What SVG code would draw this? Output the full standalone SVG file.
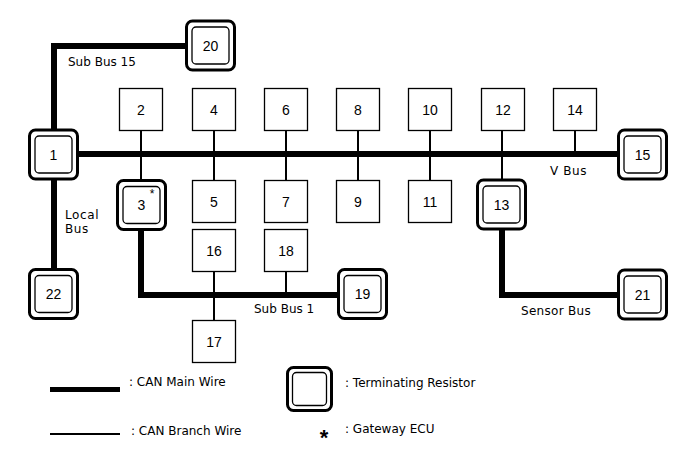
<svg xmlns="http://www.w3.org/2000/svg" width="688" height="463" viewBox="0 0 688 463">
<style>
.bg{fill:#fff}
.box{fill:#fff;stroke:#000;stroke-width:1.3}
.tro{fill:#fff;stroke:#000;stroke-width:3}
.tri{fill:none;stroke:#000;stroke-width:1.3}
.num{font-family:"Liberation Sans",Arial,sans-serif;font-size:14px;text-anchor:middle;fill:#000}
.lbl{font-family:"DejaVu Sans","Liberation Sans",sans-serif;font-size:12px;fill:#000}
.main{stroke:#000;stroke-width:6;fill:none}
.br{stroke:#000;stroke-width:2;fill:none}
</style>
<defs>
<g id="tr">
<rect class="tro" x="-24" y="-24.5" width="48" height="49" rx="6"/>
<rect class="tri" x="-18.5" y="-18.5" width="37" height="37" rx="4"/>
</g>
</defs>
<rect class="bg" width="688" height="463"/>
<g id="connectors">
<polyline class="main" points="54,129 54,46 186,46"/>
<line class="main" x1="79" y1="154" x2="618" y2="154"/>
<line class="main" x1="54" y1="180" x2="54" y2="269"/>
<polyline class="main" points="141,231 141,295 338,295"/>
<polyline class="main" points="502,230 502,295 618,295"/>
<line class="br" x1="141" y1="131" x2="141" y2="180"/>
<line class="br" x1="214" y1="131" x2="214" y2="180"/>
<line class="br" x1="286" y1="131" x2="286" y2="180"/>
<line class="br" x1="358" y1="131" x2="358" y2="180"/>
<line class="br" x1="430" y1="131" x2="430" y2="180"/>
<line class="br" x1="502" y1="131" x2="502" y2="180"/>
<line class="br" x1="575" y1="131" x2="575" y2="154"/>
<line class="br" x1="214" y1="271" x2="214" y2="320"/>
<line class="br" x1="286" y1="271" x2="286" y2="295"/>
</g>
<g id="n1"><use href="#tr" x="53.5" y="154.5"/><text class="num" x="53.5" y="159.5">1</text></g>
<g id="n20"><use href="#tr" x="210.5" y="45.5"/><text class="num" x="210.5" y="50.5">20</text></g>
<g id="n15"><use href="#tr" x="642.5" y="154.5"/><text class="num" x="642.5" y="159.5">15</text></g>
<g id="n3"><use href="#tr" x="141.5" y="205"/><text class="num" x="141.5" y="210">3</text><text class="num" x="152" y="198" style="font-size:12px">*</text></g>
<g id="n13"><use href="#tr" x="501.5" y="204.5"/><text class="num" x="501.5" y="209.5">13</text></g>
<g id="n22"><use href="#tr" x="53.5" y="294"/><text class="num" x="53.5" y="299">22</text></g>
<g id="n19"><use href="#tr" x="362.5" y="294"/><text class="num" x="362.5" y="299">19</text></g>
<g id="n21"><use href="#tr" x="642.5" y="294.5"/><text class="num" x="642.5" y="299.5">21</text></g>
<g id="n2"><rect class="box" x="119.5" y="88.5" width="43" height="42"/><text class="num" x="141" y="115">2</text></g>
<g id="n4"><rect class="box" x="192.5" y="88.5" width="43" height="42"/><text class="num" x="214" y="115">4</text></g>
<g id="n6"><rect class="box" x="264.5" y="88.5" width="43" height="42"/><text class="num" x="286" y="115">6</text></g>
<g id="n8"><rect class="box" x="336.5" y="88.5" width="43" height="42"/><text class="num" x="358" y="115">8</text></g>
<g id="n10"><rect class="box" x="408.5" y="88.5" width="43" height="42"/><text class="num" x="430" y="115">10</text></g>
<g id="n12"><rect class="box" x="481.5" y="88.5" width="43" height="42"/><text class="num" x="503" y="115">12</text></g>
<g id="n14"><rect class="box" x="553.5" y="88.5" width="43" height="42"/><text class="num" x="575" y="115">14</text></g>
<g id="n5"><rect class="box" x="192.5" y="180.5" width="43" height="42"/><text class="num" x="214" y="207">5</text></g>
<g id="n7"><rect class="box" x="264.5" y="180.5" width="43" height="42"/><text class="num" x="286" y="207">7</text></g>
<g id="n9"><rect class="box" x="336.5" y="180.5" width="43" height="42"/><text class="num" x="358" y="207">9</text></g>
<g id="n11"><rect class="box" x="408.5" y="180.5" width="43" height="42"/><text class="num" x="430" y="207">11</text></g>
<g id="n16"><rect class="box" x="192.5" y="229.5" width="43" height="42"/><text class="num" x="214" y="256">16</text></g>
<g id="n18"><rect class="box" x="264.5" y="229.5" width="43" height="42"/><text class="num" x="286" y="256">18</text></g>
<g id="n17"><rect class="box" x="192.5" y="320.5" width="43" height="42"/><text class="num" x="214" y="347">17</text></g>
<g id="labels">
<text class="lbl" x="68" y="66">Sub Bus 15</text>
<text class="lbl" x="65" y="219" letter-spacing="0.6">Local</text>
<text class="lbl" x="65" y="233" letter-spacing="0.6">Bus</text>
<text class="lbl" x="550" y="175" letter-spacing="0.6">V Bus</text>
<text class="lbl" x="254" y="313">Sub Bus 1</text>
<text class="lbl" x="521" y="315" letter-spacing="0.3">Sensor Bus</text>
</g>
<g id="legend">
<line x1="50" y1="389.5" x2="120" y2="389.5" stroke="#000" stroke-width="5"/>
<text class="lbl" x="129" y="386">: CAN Main Wire</text>
<line x1="50" y1="434" x2="120" y2="434" stroke="#000" stroke-width="2"/>
<text class="lbl" x="131" y="435">: CAN Branch Wire</text>
<rect class="tro" x="287.5" y="367.5" width="44" height="43" rx="6"/>
<rect class="tri" x="292.5" y="372.5" width="34" height="33" rx="4"/>
<text class="lbl" x="345" y="387">: Terminating Resistor</text>
<text class="num" x="324" y="445" style="font-size:22px;font-weight:bold">*</text>
<text class="lbl" x="345" y="433">: Gateway ECU</text>
</g>
</svg>
